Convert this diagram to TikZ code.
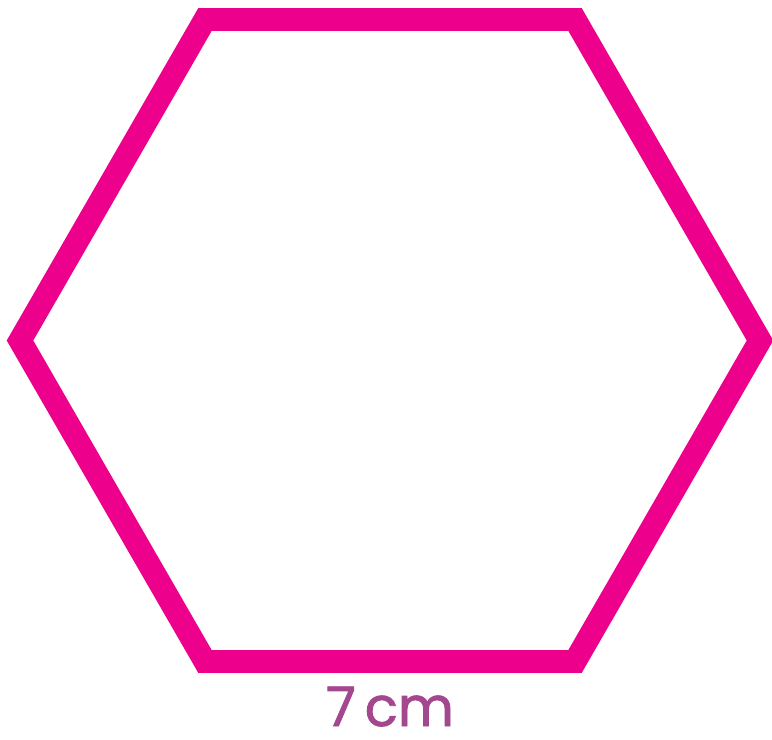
\documentclass[tikz,border=0pt]{standalone}
\usepackage{fontspec}
\setmainfont{Poppins}
\usetikzlibrary{positioning}
\definecolor{hexpink}{HTML}{EC008C}
\definecolor{lenpurple}{HTML}{A3478F}

\begin{document}
\begin{tikzpicture}[x=0.02cm,y=-0.02cm,
 side/.style={draw=hexpink,line width=0.46cm,line join=miter},
 lenlabel/.style={text=lenpurple,font=\fontsize{31}{34}\selectfont\addfontfeatures{FakeBold=1.6},inner sep=0pt}]
\useasboundingbox (0,0) rectangle (772,740);
\coordinate (tl) at (205,19.5);
\coordinate (tr) at (575,19.5);
\coordinate (r) at (760,340.5);
\coordinate (br) at (575,661.5);
\coordinate (bl) at (205,661.5);
\coordinate (l) at (20,340.5);
\draw[side] (tl)--(tr)--(r)--(br)--(bl)--(l)--cycle;
\node[lenlabel,anchor=base] (len) at (390,726) {7\,cm};
\end{tikzpicture}
\end{document}
